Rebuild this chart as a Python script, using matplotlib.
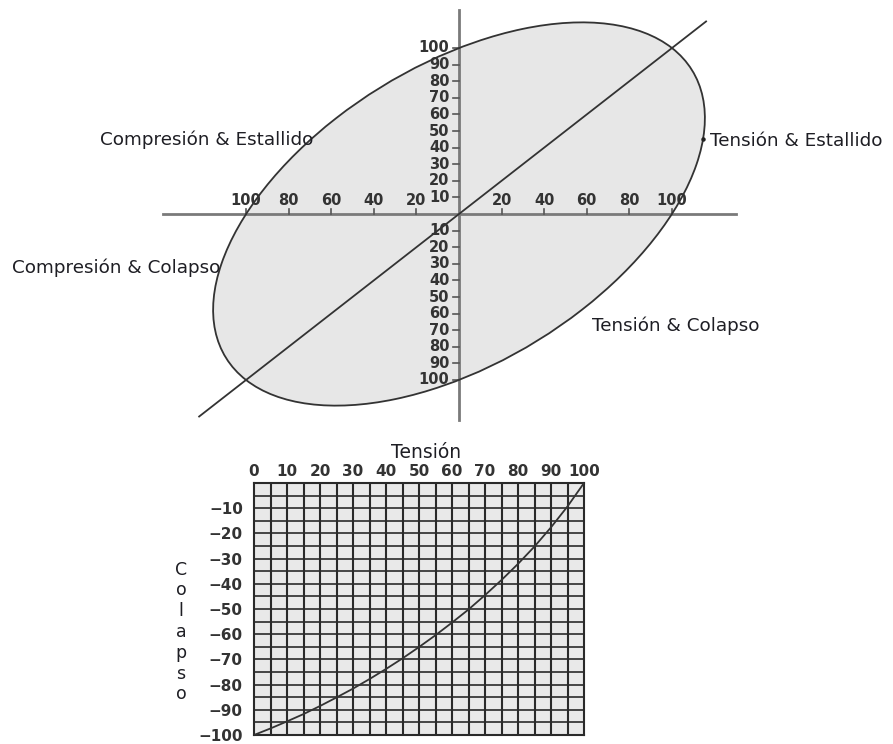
import matplotlib

matplotlib.use("Agg")
import matplotlib.pyplot as plt
from matplotlib.patches import Ellipse

W, H = 893, 744

# ---- top panel: biaxial (von Mises) ellipse ----
x_ticks = [20, 40, 60, 80, 100]
y_ticks = [10, 20, 30, 40, 50, 60, 70, 80, 90, 100]
ellipse_semi_major = 141.4   # along the 45 deg diagonal, % of rating
ellipse_semi_minor = 81.6
quadrant_labels = [
    "Compresión & Estallido",
    "Tensión & Estallido",
    "Compresión & Colapso",
    "Tensión & Colapso",
]
label_marker = (114.6, 45.0)

# ---- bottom panel: tension vs collapse chart ----
tension = [0, 5, 10, 15, 20, 25, 30, 35, 40, 45, 50,
           55, 60, 65, 70, 75, 80, 85, 90, 95, 100]
collapse = [-100, -97.4, -94.6, -91.7, -88.5, -85.1, -81.6, -77.8, -73.8, -69.6, -65.1,
            -60.4, -55.4, -50.2, -44.5, -38.5, -32.1, -25.2, -17.6, -9.3, 0]
top_ticks = list(range(0, 101, 10))
left_ticks = list(range(-10, -101, -10))

TICK_FONT = "DejaVu Sans"
LABEL_FONT = "DejaVu Sans"
TXT = "#333333"
LBL = "#1e1e24"


def px_axes(fig, x0, y0, x1, y1):
    """Axes from pixel box (origin top-left)."""
    return fig.add_axes([x0 / W, 1 - y1 / H, (x1 - x0) / W, (y1 - y0) / H])


fig = plt.figure(figsize=(W / 100, H / 100), dpi=100)

# top panel: origin at pixel (459, 214), 2.13 px/unit in x, 1.66 px/unit in y
ox, oy, sx, sy = 459, 214, 2.13, 1.66
xlim = (-145, 135)
ylim = (-130, 128)
ax = px_axes(fig, ox + xlim[0] * sx, oy - ylim[1] * sy,
             ox + xlim[1] * sx, oy - ylim[0] * sy)
ax.set_xlim(*xlim)
ax.set_ylim(*ylim)
ax.axis("off")

ax.add_patch(Ellipse((0, 0), 2 * ellipse_semi_major, 2 * ellipse_semi_minor, angle=45,
                     facecolor="#e7e7e7", edgecolor="none", zorder=1))
ax.add_patch(Ellipse((0, 0), 2 * ellipse_semi_major, 2 * ellipse_semi_minor, angle=45,
                     facecolor="none", edgecolor="#333333", linewidth=1.3, zorder=4))

# axes cross
ax.plot([-139, 130], [0, 0], color="#7a7a7a", linewidth=2.0, zorder=2)
ax.plot([0, 0], [-124, 123], color="#7a7a7a", linewidth=2.0, zorder=2)

# diagonal (equal tension / pressure)
ax.plot([-122, 116], [-122, 116], color="#333333", linewidth=1.3, zorder=3)

for v in x_ticks:
    for s in (-1, 1):
        ax.plot([s * v, s * v], [0, 3.2], color="#555555", linewidth=1.2, zorder=3)
        ax.text(s * v, 8, f"{v}", ha="center", va="center", fontsize=10.5,
                family=TICK_FONT, weight="bold", color=TXT, zorder=5)
for v in y_ticks:
    for s in (-1, 1):
        ax.plot([-3.0, 0], [s * v, s * v], color="#555555", linewidth=1.2, zorder=3)
        ax.text(-4.5, s * v, f"{v}", ha="right", va="center", fontsize=10.5,
                family=TICK_FONT, weight="bold", color=TXT, zorder=5)

ax.plot(*label_marker, marker="o", markersize=2.2, color="#222222", zorder=5)

label_pos = [(100, 140), (710, 141), (12, 268), (592, 326)]
for text, (lx, ly) in zip(quadrant_labels, label_pos):
    fig.text(lx / W, 1 - ly / H, text, ha="left", va="center", fontsize=13.2,
             family=LABEL_FONT, color=LBL)

# bottom panel
bx = px_axes(fig, 254, 483, 584, 735)
bx.set_xlim(0, 100)
bx.set_ylim(-100, 0)
bx.set_facecolor("#e9e9e9")
for v in range(5, 100, 5):
    bx.axvline(v, color="#2a2a2a", linewidth=1.5, zorder=1)
    bx.axhline(-v, color="#2a2a2a", linewidth=1.2, zorder=1)
bx.plot(tension, collapse, color="#333333", linewidth=1.3, zorder=3)
for sp in bx.spines.values():
    sp.set_color("#2a2a2a")
    sp.set_linewidth(1.5)

bx.xaxis.tick_top()
bx.set_xticks(top_ticks)
bx.set_xticklabels([str(t) for t in top_ticks])
bx.set_yticks(left_ticks)
bx.set_yticklabels([f"\u2212{abs(t)}" for t in left_ticks])
bx.tick_params(length=0, labelsize=11, labelcolor=TXT)
bx.tick_params(axis="x", pad=3)
bx.tick_params(axis="y", pad=8)
for lab in bx.get_xticklabels() + bx.get_yticklabels():
    lab.set_family(TICK_FONT)
    lab.set_weight("bold")

fig.text(426 / W, 1 - 452 / H, "Tensión", ha="center", va="center", fontsize=13.5,
         family=LABEL_FONT, color=LBL)
fig.text(181 / W, 1 - 632 / H, "C\no\nl\na\np\ns\no", ha="center", va="center",
         fontsize=12.5, family=LABEL_FONT, color=LBL, linespacing=1.2)

fig.savefig("out.png", dpi=100)
